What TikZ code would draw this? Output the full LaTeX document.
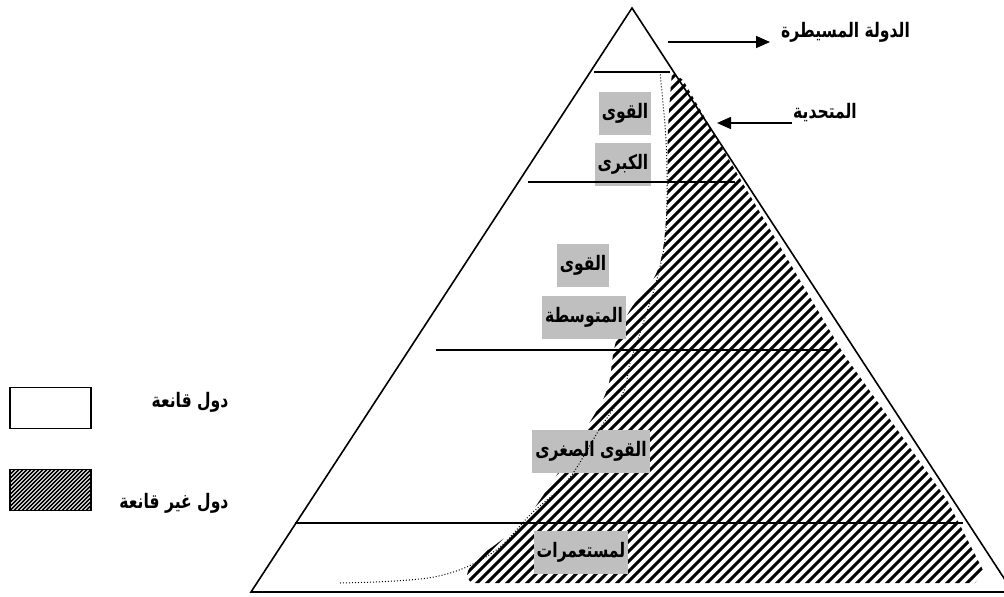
\documentclass[tikz,border=0pt]{standalone}
\usepackage{fontspec}
\newfontfamily\arabicfont[Script=Arabic, FakeStretch=0.78]{DejaVu Sans}
\TeXXeTstate=1
\usetikzlibrary{arrows.meta}
\tikzset{
  levelline/.style={line width=1.6pt},
  hatchline/.style={line width=3.1pt},
  grouplabel/.style={fill=black!25, inner xsep=3pt, minimum height=43pt, font=\arabicfont\bfseries\fontsize{20}{22}\selectfont},
  sidelabel/.style={inner sep=1pt, font=\arabicfont\bfseries\fontsize{20}{22}\selectfont},
  pointer/.style={-{Triangle[length=14pt,width=12pt]}, line width=1.6pt},
  legendbox/.style={draw, line width=1.2pt, minimum width=81pt, minimum height=41pt, inner sep=0pt}
}

\begin{document}
\begin{tikzpicture}[x=1pt,y=-1pt]
\useasboundingbox (0,0) rectangle (1004,597);
\coordinate (apex) at (632,8);
\coordinate (baseL) at (251,592);
\coordinate (baseR) at (1013,592);

\begin{scope}
\clip plot[smooth, tension=0.6] coordinates {(672,72) (668,130) (667,200) (662,255) (650,285) (630,310) (615,345) (607,390) (585,430) (560,470) (540,500) (523,523) (495,545) (475,560) (467,575) (472,583)}
  -- (975,583) -- (984,572) -- (947,500) -- (843,353) -- (742,182) -- (683,80) -- cycle;
\foreach \k in {150,160,...,1000}
  \draw[hatchline] (\k,600) -- ++(600pt,600pt);
\end{scope}

\node[grouplabel] (greatA) at (625,113) {\beginR القوى\endR};
\node[grouplabel] (greatB) at (623,164) {\beginR الكبرى\endR};
\node[grouplabel] (middleA) at (583,265) {\beginR القوى\endR};
\node[grouplabel] (middleB) at (584,317) {\beginR المتوسطة\endR};
\node[grouplabel] (small) at (591,451) {\beginR القوى الصغرى\endR};
\node[grouplabel] (colonies) at (581,552) {\beginR لمستعمرات\endR};

\draw[levelline] (594,72) -- (670,72);
\draw[levelline] (528,182) -- (735,182);
\draw[levelline] (436,350) -- (830,350);
\draw[levelline] (295,523) -- (963,523);
\draw[line width=1.6pt, line join=miter] (apex) -- (baseL) -- (baseR) -- cycle;

\draw[dotted, line width=1pt] plot[smooth, tension=0.6] coordinates {(340,583) (434,577) (492,553) (532,513) (568,480) (599,430) (623,393) (630,363) (640,333) (653,293) (660,267) (665,240) (667,200) (666,140) (660,72)};

\node[sidelabel, anchor=west] (dominant) at (780,32) {\beginR الدولة المسيطرة\endR};
\coordinate (domtail) at (668,42);
\draw[pointer] (domtail) -- ([xshift=-10pt]domtail -| dominant.west);
\node[sidelabel, anchor=west] (challenger) at (792,113) {\beginR المتحدية\endR};
\coordinate (chtip) at (717,123);
\draw[pointer] (chtip -| challenger.west) -- (chtip);

\node[legendbox] (content) at (50.5,408) {};
\node[legendbox, path picture={
  \foreach \k in {-60,-56,...,100}
    \draw[line width=1.5pt] ([xshift=\k pt]path picture bounding box.south west) -- ++(60pt,60pt);
}] (discontent) at (50.5,490) {};
\node[sidelabel] (contentText) at (190,402) {\beginR دول قانعة\endR};
\node[sidelabel] (discontentText) at (174,503) {\beginR دول غير قانعة\endR};
\end{tikzpicture}
\end{document}
